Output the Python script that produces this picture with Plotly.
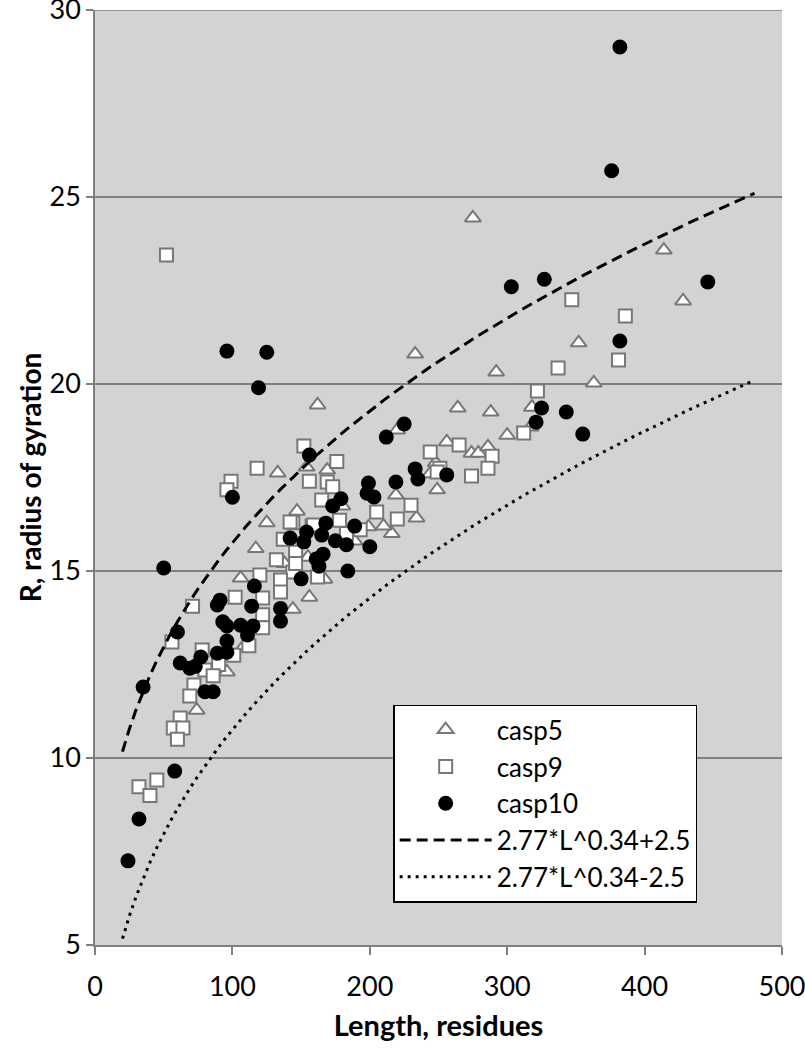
import plotly.graph_objects as go

# ---- data ----
casp5_L = [275, 414, 428, 352, 292, 363, 264, 288, 318, 300, 256, 274, 279, 286, 317,
           162, 133, 154, 169, 147, 125, 117, 220, 248, 249, 219, 234, 216, 199, 180,
           155, 167, 156, 144, 106, 108, 96, 74, 233, 244, 210, 138, 189]
casp5_R = [24.44, 23.58, 22.22, 21.10, 20.32, 20.03, 19.36, 19.25, 19.38, 18.63, 18.45, 18.15, 18.15, 18.32, 18.85,
           19.44, 17.62, 17.78, 17.70, 16.60, 16.29, 15.60, 18.77, 17.90, 17.17, 17.03, 16.42, 16.00, 16.18, 16.74,
           15.37, 14.78, 14.30, 13.98, 14.81, 12.97, 12.30, 11.28, 20.80, 17.60, 16.20, 15.20, 15.80]

casp9_L = [52, 347, 386, 381, 337, 322, 312, 265, 289, 286, 274, 251, 244, 249,
           152, 118, 99, 96, 176, 156, 169, 173, 165, 178, 144, 158, 137, 205, 230, 220,
           142, 159, 193, 146, 144, 162, 135, 135, 120, 122, 102, 71, 122, 122, 56, 78,
           101, 80, 72, 69, 62, 57, 64, 60, 32, 45, 40, 90, 86, 112, 146, 183, 132]
casp9_R = [23.45, 22.25, 21.82, 20.64, 20.43, 19.81, 18.69, 18.37, 18.07, 17.75, 17.54, 17.75, 18.18, 17.65,
           18.34, 17.75, 17.40, 17.17, 17.93, 17.40, 17.38, 17.25, 16.90, 16.36, 16.29, 16.20, 15.85, 16.58, 16.76, 16.39,
           16.31, 16.23, 16.10, 15.50, 14.97, 14.84, 14.76, 14.44, 14.89, 14.28, 14.30, 14.06, 13.83, 13.48, 13.10, 12.89,
           12.75, 12.35, 11.95, 11.66, 11.07, 10.80, 10.80, 10.50, 9.23, 9.41, 9.00, 12.50, 12.20, 13.00, 15.20, 16.00, 15.30]

casp10_L = [382, 376, 303, 327, 446, 382, 325, 321, 343, 355, 256, 225, 212, 233, 235,
            219, 199, 198, 203, 156, 179, 173, 168, 189, 154, 165, 142, 152, 175, 183,
            200, 166, 161, 163, 184, 150, 135, 135, 100, 50, 116, 91, 89, 114, 93,
            96, 106, 115, 111, 60, 96, 96, 89, 77, 62, 69, 35, 80, 86, 58,
            32, 24, 96, 125, 119, 73]
casp10_R = [29.01, 25.70, 22.60, 22.80, 22.73, 21.15, 19.36, 18.98, 19.25, 18.66, 17.57, 18.93, 18.58, 17.73, 17.46,
            17.38, 17.35, 17.08, 16.98, 18.10, 16.93, 16.74, 16.28, 16.20, 16.04, 15.96, 15.88, 15.78, 15.81, 15.70,
            15.65, 15.45, 15.32, 15.13, 15.00, 14.79, 14.00, 13.66, 16.97, 15.08, 14.60, 14.22, 14.09, 14.06, 13.64,
            13.53, 13.55, 13.53, 13.29, 13.37, 13.13, 12.83, 12.80, 12.70, 12.54, 12.40, 11.90, 11.77, 11.77, 9.65,
            8.37, 7.25, 20.88, 20.85, 19.90, 12.45]

x_ticks = [0, 100, 200, 300, 400, 500]
y_ticks = [5, 10, 15, 20, 25, 30]

# curve sample lengths; curves follow the formulas named in the legend
curve_L = list(range(20, 481, 5))
coef, expo, offset = 2.77, 0.34, 2.5
upper_R = [coef * l ** expo + offset for l in curve_L]
lower_R = [coef * l ** expo - offset for l in curve_L]

FONT = "Lato"
GRID = "#7f7f7f"

fig = go.Figure()
fig.add_trace(go.Scatter(
    x=casp5_L, y=casp5_R, mode="markers", name="casp5",
    marker=dict(symbol="triangle-up", size=14, color="white",
                line=dict(color="#777777", width=2))))
fig.add_trace(go.Scatter(
    x=casp9_L, y=casp9_R, mode="markers", name="casp9",
    marker=dict(symbol="square", size=13, color="white",
                line=dict(color="#777777", width=2))))
fig.add_trace(go.Scatter(
    x=casp10_L, y=casp10_R, mode="markers", name="casp10",
    marker=dict(symbol="circle", size=15, color="black",
                line=dict(width=0))))
fig.add_trace(go.Scatter(
    x=curve_L, y=upper_R, mode="lines", name="2.77*L^0.34+2.5",
    line=dict(color="black", width=3, dash="11px,6px")))
fig.add_trace(go.Scatter(
    x=curve_L, y=lower_R, mode="lines", name="2.77*L^0.34-2.5",
    line=dict(color="black", width=3, dash="3px,5px")))

# top boundary gridline at 30
fig.add_shape(type="line", xref="paper", yref="y", x0=0, x1=1, y0=30, y1=30,
              line=dict(color=GRID, width=1.5), layer="below")

fig.update_layout(
    width=805, height=1050,
    margin=dict(l=95, r=23, t=10, b=105),
    paper_bgcolor="white", plot_bgcolor="#d3d3d3",
    font=dict(family=FONT, size=27, color="black"),
    showlegend=True,
    legend=dict(x=0.434, y=0.257, xanchor="left", yanchor="top",
                bgcolor="white", bordercolor="black", borderwidth=1.5,
                font=dict(family=FONT, size=26, color="black"),
                tracegroupgap=0, itemwidth=92),
    xaxis=dict(range=[0, 500], tickvals=x_ticks, automargin=False,
               showgrid=False, zeroline=False, ticklabeloverflow="allow",
               showline=True, linecolor=GRID, linewidth=1.5,
               ticks="outside", ticklen=8, tickcolor=GRID, tickwidth=1.5,
               tickfont=dict(size=27), ticklabelstandoff=9,
               title=dict(text="<b>Length, residues</b>", font=dict(size=29), standoff=15)),
    yaxis=dict(range=[5, 30], tickvals=y_ticks, automargin=False,
               showgrid=True, gridcolor=GRID, gridwidth=1.5, zeroline=False,
               ticklabeloverflow="allow",
               showline=True, linecolor=GRID, linewidth=1.5,
               ticks="outside", ticklen=7, tickcolor=GRID, tickwidth=1.5,
               tickfont=dict(size=27),
               title=dict(text="<b>R, radius of gyration</b>", font=dict(size=28), standoff=0)),
)

fig.write_html("out.html", config={"displayModeBar": False},
               post_script="document.body.style.margin='0';")
